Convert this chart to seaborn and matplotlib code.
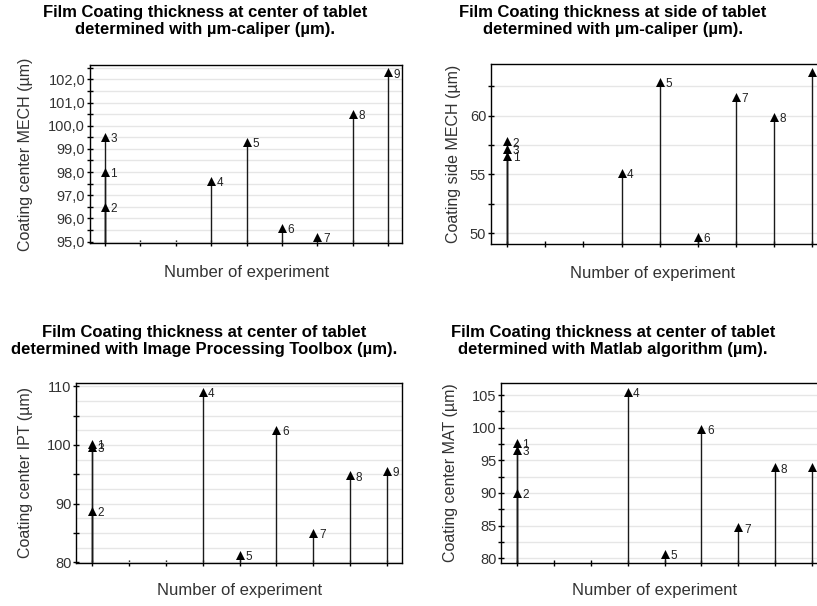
import matplotlib
matplotlib.use("Agg")
import matplotlib.pyplot as plt
import matplotlib.ticker as mticker
import seaborn as sns
import pandas as pd
import numpy as np

# ---------------- data ----------------
experiments = ["1", "2", "3", "4", "5", "6", "7", "8", "9"]
x_position = [1, 1, 1, 4, 5, 6, 7, 8, 9]
x_ticks = [1, 2, 3, 4, 5, 6, 7, 8, 9]

center_mech = [98.0, 96.5, 99.5, 97.6, 99.3, 95.6, 95.2, 100.5, 102.3]
side_mech = [56.6, 57.8, 57.2, 55.1, 62.9, 49.7, 61.6, 59.9, 63.7]
center_ipt = [100.1, 88.8, 99.7, 109.0, 81.3, 102.6, 85.0, 94.8, 95.5]
center_mat = [97.7, 90.0, 96.6, 105.5, 80.7, 99.8, 84.7, 93.9, 94.0]

titles = [
    "Film Coating thickness at center of tablet\ndetermined with µm-caliper (µm).",
    "Film Coating thickness at side of tablet\ndetermined with µm-caliper (µm).",
    "Film Coating thickness at center of tablet\ndetermined with Image Processing Toolbox (µm).",
    "Film Coating thickness at center of tablet\ndetermined with Matlab algorithm (µm).",
]
ylabels = [
    "Coating center MECH (µm)",
    "Coating side MECH (µm)",
    "Coating center IPT (µm)",
    "Coating center MAT (µm)",
]
xlabel = "Number of experiment"

# ---------------- layout ----------------
W, H = 817, 606
sns.set_theme(style="white")
plt.rcParams['font.family'] = ['Liberation Sans', 'DejaVu Sans']

fig = plt.figure(figsize=(W / 100, H / 100), dpi=100)
fig.patch.set_facecolor("white")

panels = [
    dict(values=center_mech, rect=(90.1, 65, 312.3, 178), ylim=(94.94, 102.62),
         label_step=1.0, tick_step=0.5, grid_step=0.5, comma=True,
         title_xy=(205, 5), ylab_x=-0.183, xlab=(0.5, -0.124)),
    dict(values=side_mech, rect=(491.0, 64, 336.6, 180.3), ylim=(49.04, 64.4),
         label_step=5, tick_step=2.5, grid_step=2.5, comma=False,
         title_xy=(613, 5), ylab_x=-0.09, xlab=(0.481, -0.12)),
    dict(values=center_ipt, rect=(76.2, 382.7, 325.9, 180), ylim=(79.95, 110.6),
         label_step=10, tick_step=5, grid_step=2.5, comma=False,
         title_xy=(204, 325), ylab_x=-0.133, xlab=(0.5, -0.11)),
    dict(values=center_mat, rect=(501.2, 382.7, 325.9, 180), ylim=(79.3, 106.9),
         label_step=5, tick_step=2.5, grid_step=2.5, comma=False,
         title_xy=(613, 325), ylab_x=-0.133, xlab=(0.472, -0.11)),
]

for i, p in enumerate(panels):
    l, t, w, h = p["rect"]
    ax = fig.add_axes([l / W, (H - t - h) / H, w / W, h / H])
    ax.set_facecolor("white")
    df = pd.DataFrame({"x": x_position, "v": p["values"], "exp": experiments})
    y0 = p["ylim"][0]

    ax.vlines(df["x"], y0, df["v"], color="#1a1a1a", lw=1.0, zorder=2)
    sns.scatterplot(data=df, x="x", y="v", marker="^", s=42, color="black",
                    edgecolor="black", linewidth=0, ax=ax, legend=False, zorder=3)
    for _, r in df.iterrows():
        ax.annotate(r["exp"], (r["x"], r["v"]), xytext=(4, -1.5),
                    textcoords="offset points", fontsize=8.5, va="center",
                    ha="left", color="#222222", annotation_clip=False)

    ax.set_xlim(0.58, 9.4)
    ax.set_ylim(*p["ylim"])
    ax.set_xticks(x_ticks)
    ax.set_xticklabels([])
    ls = p["label_step"]
    comma = p["comma"]

    def fmt(v, pos, ls=ls, comma=comma):
        if abs(v / ls - round(v / ls)) > 1e-6:
            return ""
        if comma:
            return f"{v:.1f}".replace(".", ",")
        return f"{v:.0f}"

    ax.yaxis.set_major_locator(mticker.MultipleLocator(p["tick_step"]))
    ax.yaxis.set_minor_locator(mticker.MultipleLocator(p["grid_step"]))
    ax.yaxis.set_major_formatter(mticker.FuncFormatter(fmt))
    ax.tick_params(axis="y", which="major", direction="inout", length=5, width=1,
                   color="black", labelsize=10.5, labelcolor="#333333", pad=1, left=True)
    ax.tick_params(axis="y", which="minor", length=0)
    ax.tick_params(axis="x", which="major", direction="inout", length=5, width=1,
                   color="black", bottom=True)
    ax.grid(True, axis="y", which="both", color="#e6e6e6", lw=1.0, zorder=0)
    ax.set_axisbelow(True)
    for s in ax.spines.values():
        s.set_visible(True)
        s.set_color("black")
        s.set_linewidth(1.0)

    ax.set_xlabel(xlabel, fontsize=12, color="#333333")
    ax.xaxis.set_label_coords(p["xlab"][0], p["xlab"][1])
    ax.set_ylabel(ylabels[i], fontsize=11.5, color="#333333")
    ax.yaxis.set_label_coords(p["ylab_x"], 0.5)

    tx, ty = p["title_xy"]
    fig.text(tx / W, 1 - ty / H, titles[i], ha="center", va="top",
             fontsize=12, fontweight="bold", color="black", linespacing=1.2,
             multialignment="center")

fig.savefig("out.png", dpi=100, facecolor="white")
